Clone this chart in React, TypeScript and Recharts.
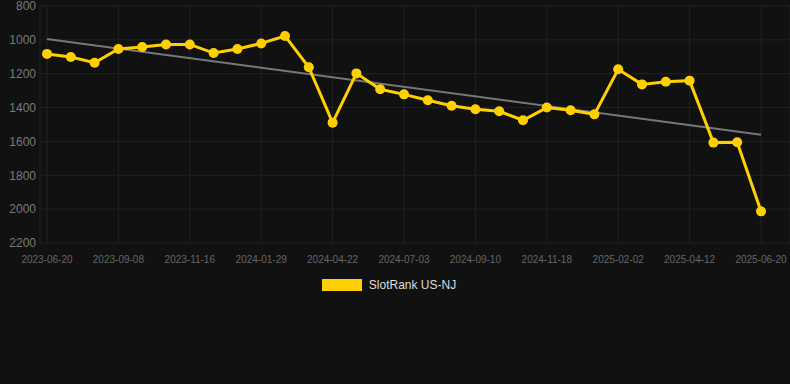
import { CartesianGrid, Legend, Line, LineChart, ReferenceLine, XAxis, YAxis } from 'recharts'

const dates = [
	'2023-06-20', '2023-07-17', '2023-08-12', '2023-09-08', '2023-10-01', '2023-10-24',
	'2023-11-16', '2023-12-10', '2024-01-04', '2024-01-29', '2024-02-26', '2024-03-25',
	'2024-04-22', '2024-05-16', '2024-06-09', '2024-07-03', '2024-07-26', '2024-08-18',
	'2024-09-10', '2024-10-03', '2024-10-26', '2024-11-18', '2024-12-13', '2025-01-08',
	'2025-02-02', '2025-02-25', '2025-03-20', '2025-04-12', '2025-05-05', '2025-05-28',
	'2025-06-20',
]

const ranks = [
	1083, 1101, 1135, 1054, 1042, 1027, 1027, 1078, 1054, 1021, 977,
	1162, 1489, 1198, 1292, 1322, 1357, 1389, 1410, 1422, 1475,
	1400, 1416, 1440, 1174, 1263, 1247, 1241, 1607, 1605, 2013,
]

const yTicks = [800, 1000, 1200, 1400, 1600, 1800, 2000, 2200]
const trendStart = 995
const trendEnd = 1560

const SERIES = 'SlotRank US-NJ'
const YELLOW = '#FFD000'

const data = dates.map((date, i) => ({ date, rank: ranks[i] }))

const LegendBox = () => (
	<div style={{ display: 'flex', justifyContent: 'center', alignItems: 'center', height: 24, paddingRight: 12 }}>
		<span style={{ display: 'inline-block', width: 40, height: 12, background: YELLOW, marginRight: 7 }} />
		<span style={{ color: '#dddddd', fontSize: 12, fontFamily: 'Liberation Sans, Arial, sans-serif' }}>{SERIES}</span>
	</div>
)

const App = () => {
	return (
		<div style={{ position: 'fixed', left: 0, top: 0, width: 790, height: 384, background: '#111111' }}>
			<LineChart width={790} height={384} data={data} margin={{ top: 6, right: 0, left: 0, bottom: 87 }}>
				<CartesianGrid stroke='#222222' strokeWidth={1} />
				<XAxis
					dataKey='date'
					interval={2}
					padding={{ left: 7, right: 29 }}
					height={30}
					tickSize={0}
					tickMargin={13}
					axisLine={false}
					tick={{ fill: '#666666', fontSize: 10, fontFamily: 'Liberation Sans, Arial, sans-serif' }}
				/>
				<YAxis
					reversed
					domain={[800, 2200]}
					ticks={yTicks}
					interval={0}
					width={40}
					tickSize={0}
					tickMargin={4}
					axisLine={false}
					tick={{ fill: '#7a7a7a', fontSize: 12, fontFamily: 'Liberation Sans, Arial, sans-serif' }}
				/>
				<ReferenceLine
					segment={[{ x: dates[0], y: trendStart }, { x: dates[dates.length - 1], y: trendEnd }]}
					stroke='#777777'
					strokeWidth={2}
				/>
				<Line
					type='linear'
					dataKey='rank'
					name={SERIES}
					stroke={YELLOW}
					strokeWidth={3}
					dot={{ r: 5, fill: YELLOW, stroke: YELLOW, strokeWidth: 0 }}
					activeDot={false}
					isAnimationActive={false}
				/>
				<Legend verticalAlign='bottom' content={<LegendBox />} />
			</LineChart>
		</div>
	)
}

export default App
